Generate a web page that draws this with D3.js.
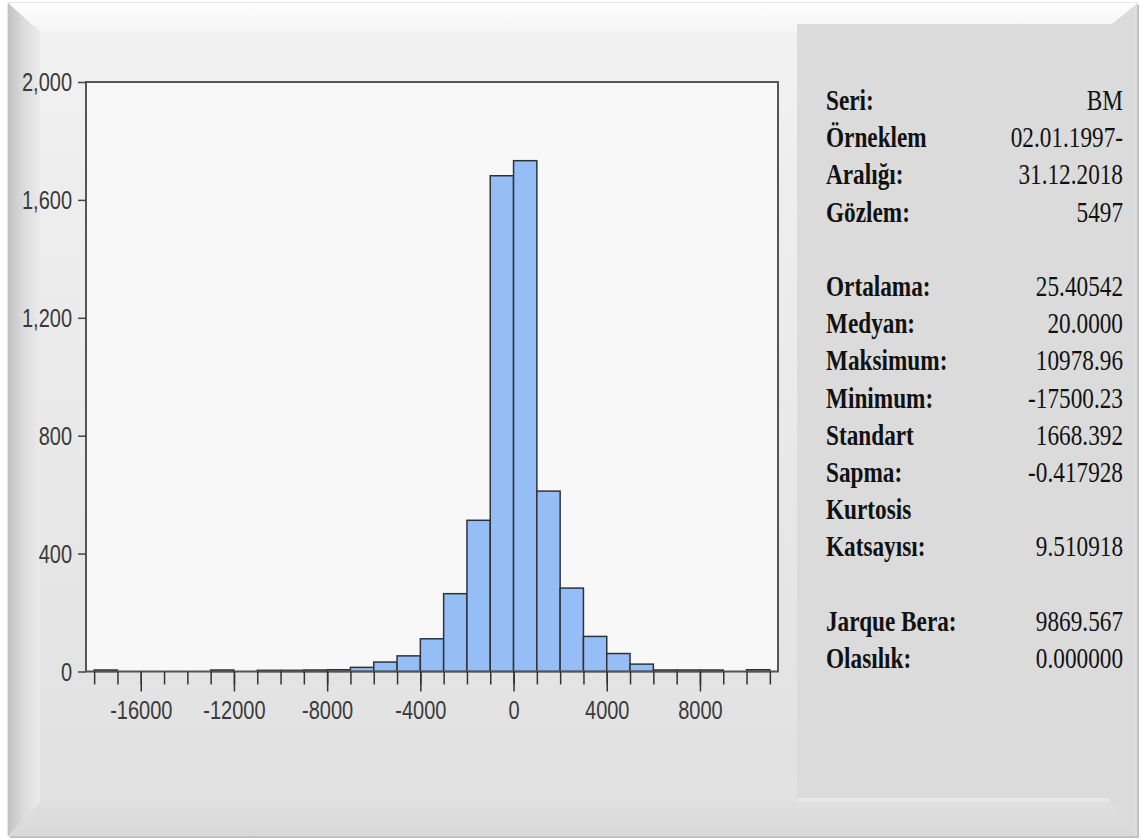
<!DOCTYPE html>
<html><head><meta charset="utf-8">
<script src="https://cdn.jsdelivr.net/npm/d3@7"></script>
<style>body{margin:0;background:#fff}svg{display:block}</style>
</head><body>
<script>
// ---- data ----
const binStarts = [-18000,-17000,-16000,-15000,-14000,-13000,-12000,-11000,-10000,-9000,-8000,-7000,-6000,-5000,-4000,-3000,-2000,-1000,0,1000,2000,3000,4000,5000,6000,7000,8000,9000,10000];
const counts    = [5,0,0,0,0,5,0,4,4,5,6,14,32,53,111,264,513,1682,1733,612,283,119,61,25,5,5,5,0,6];
const binWidth = 1000;
const yTicks = [0,400,800,1200,1600,2000];
const xMajorTicks = [-16000,-12000,-8000,-4000,0,4000,8000];
const xMinorTicks = d3.range(-18000, 11001, 1000);
const statLabels = ["Seri:","Örneklem","Aralığı:","Gözlem:","","Ortalama:","Medyan:","Maksimum:","Minimum:","Standart","Sapma:","Kurtosis","Katsayısı:","","Jarque Bera:","Olasılık:"];
const statValues = ["BM","02.01.1997-","31.12.2018","5497","","25.40542","20.0000","10978.96","-17500.23","1668.392","-0.417928","","9.510918","","9869.567","0.000000"];

const W = 1141, H = 840;
const svg = d3.select("body").append("svg").attr("width", W).attr("height", H);
const defs = svg.append("defs");
function lg(id, x1,y1,x2,y2, stops){
  const g = defs.append("linearGradient").attr("id",id).attr("x1",x1).attr("y1",y1).attr("x2",x2).attr("y2",y2);
  stops.forEach(s=>g.append("stop").attr("offset",s[0]).attr("stop-color",s[1]));
}
lg("gTop",0,0,0,1,[[0,"#ffffff"],[1,"#f4f4f4"]]);
lg("gLeft",0,0,1,0,[[0,"#c2c2c2"],[0.5,"#dcdcdc"],[1,"#ebebeb"]]);
lg("gBot",0,0,0,1,[[0,"#e0e0e0"],[1,"#d8d8d8"]]);
lg("gPanel",0,0,0,1,[[0,"#f1f1f1"],[1,"#e1e1e1"]]);

// frame
const fx0=8, fy0=3, fx1=1137, fy1=836, ix0=40, iy0=32, ix1=1110, iy1=802;
svg.append("rect").attr("x",fx0+2).attr("y",fy0+2).attr("width",fx1-fx0).attr("height",fy1-fy0).attr("fill","#bdbdbd");
svg.append("rect").attr("x",fx0).attr("y",fy0).attr("width",fx1-fx0).attr("height",fy1-fy0).attr("fill","#e6e6e6").attr("stroke","#d0d0d0");
svg.append("polygon").attr("points",`${fx0},${fy0} ${fx1},${fy0} ${ix1},${iy0} ${ix0},${iy0}`).attr("fill","url(#gTop)");
svg.append("polygon").attr("points",`${fx0},${fy0} ${ix0},${iy0} ${ix0},${iy1} ${fx0},${fy1}`).attr("fill","url(#gLeft)");
svg.append("polygon").attr("points",`${fx0},${fy1} ${ix0},${iy1} ${ix1},${iy1} ${fx1},${fy1}`).attr("fill","url(#gBot)");
svg.append("polygon").attr("points",`${fx1},${fy0} ${ix1},${iy0} ${ix1},${iy1} ${fx1},${fy1}`).attr("fill","#dedede");
svg.append("rect").attr("x",ix0).attr("y",iy0).attr("width",797-ix0).attr("height",iy1-iy0).attr("fill","url(#gPanel)");
svg.append("polygon").attr("points",`797,24 1112,24 1134,6 1134,${fy1-4} 1108,${iy1-4} 797,${iy1-4}`).attr("fill","#dbdbdb");

// scales
const x = d3.scaleLinear().domain([-18350, 11350]).range([86, 778]);
const y = d3.scaleLinear().domain([0, 2000]).range([671.5, 82]);

// plot area
svg.append("rect").attr("x",86).attr("y",82).attr("width",778-86).attr("height",671.5-82).attr("fill","#f8f8f8");

// bars
svg.append("g").selectAll("rect").data(binStarts.map((s,i)=>({s,c:counts[i]})).filter(d=>d.c>0))
  .join("rect")
  .attr("x",d=>x(d.s)).attr("width",d=>x(d.s+binWidth)-x(d.s))
  .attr("y",d=>y(d.c)).attr("height",d=>y(0)-y(d.c))
  .attr("fill","#95bef7").attr("stroke","#2f3338").attr("stroke-width",1.5);

// frame of plot
svg.append("rect").attr("x",86).attr("y",82).attr("width",778-86).attr("height",671.5-82)
  .attr("fill","none").attr("stroke","#555").attr("stroke-width",2);

const sx = 0.8;
// y axis
const yAxis = svg.append("g").attr("transform","translate(86,0)")
  .call(d3.axisLeft(y).tickValues(yTicks).tickFormat(d3.format(",")).tickSize(8).tickPadding(14));
yAxis.select(".domain").remove();
yAxis.selectAll("line").attr("stroke","#444").attr("stroke-width",1.5);
yAxis.selectAll("text").attr("font-family","Liberation Sans, Arial, sans-serif").attr("font-size",25)
  .attr("fill","#3a3a3a").attr("x",-14/sx).attr("dy","0.35em").attr("transform",`scale(${sx},1)`);

// x axis minor ticks
const xMinor = svg.append("g").attr("transform","translate(0,671.5)")
  .call(d3.axisBottom(x).tickValues(xMinorTicks).tickFormat("").tickSize(13));
xMinor.select(".domain").remove();
xMinor.selectAll("line").attr("stroke","#333").attr("stroke-width",1.5);
// x axis major ticks + labels
const xMajor = svg.append("g").attr("transform","translate(0,671.5)")
  .call(d3.axisBottom(x).tickValues(xMajorTicks).tickFormat(d=>String(d)).tickSize(20));
xMajor.select(".domain").remove();
xMajor.selectAll("line").attr("stroke","#333").attr("stroke-width",1.5);
xMajor.selectAll("text").attr("font-family","Liberation Sans, Arial, sans-serif").attr("font-size",25)
  .attr("fill","#3a3a3a").attr("y",48).attr("dy",0).attr("transform",`scale(${sx},1)`);

// stats panel
const ss = 0.775;
const stats = svg.append("g").attr("font-family","Liberation Serif, 'Times New Roman', serif").attr("font-size",30).attr("fill","#111");
statLabels.forEach((t,i)=>{
  if(!t) return;
  stats.append("text").attr("font-weight","bold")
    .attr("transform",`translate(826,${110+i*37.2}) scale(${ss},1)`).text(t);
});
statValues.forEach((t,i)=>{
  if(!t) return;
  stats.append("text").attr("text-anchor","end")
    .attr("transform",`translate(1123,${110+i*37.2}) scale(${ss},1)`).text(t);
});
</script>
</body></html>
